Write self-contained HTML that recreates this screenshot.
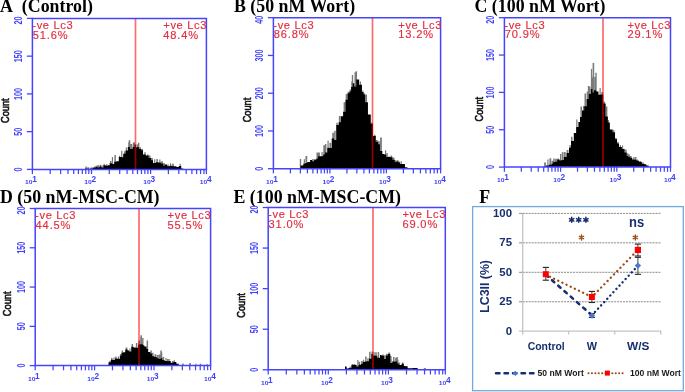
<!DOCTYPE html>
<html><head><meta charset="utf-8"><style>
*{margin:0;padding:0}
html,body{width:685px;height:392px;overflow:hidden;background:#fff}
svg{display:block;will-change:transform;filter:blur(0.3px)}
.ttl{font-family:"Liberation Serif",serif;font-weight:bold;font-size:17.85px;fill:#000}
.yl{font-family:"Liberation Sans",sans-serif;font-size:11px;font-weight:bold;fill:#4040ff;text-anchor:middle}
.xl10{font-family:"Liberation Sans",sans-serif;font-size:5.6px;font-weight:bold;fill:#4040ff;text-anchor:end}
.xls{font-family:"Liberation Sans",sans-serif;font-size:8.3px;font-weight:bold;fill:#4040ff}
.cnt{font-family:"Liberation Sans",sans-serif;font-size:10.6px;fill:#111;stroke:#111;stroke-width:0.6px;text-anchor:middle}
.rt{font-family:"Liberation Sans",sans-serif;font-size:11.1px;fill:#e22c3e;letter-spacing:0.65px;stroke:#e22c3e;stroke-width:0.15px}
.rp{letter-spacing:0.85px}
.fy{font-family:"Liberation Sans",sans-serif;font-size:11.4px;font-weight:bold;fill:#172f6e}
.fyt{font-family:"Liberation Sans",sans-serif;font-size:13px;font-weight:bold;fill:#172f6e}
.fx{font-family:"Liberation Sans",sans-serif;font-size:11.6px;font-weight:bold;fill:#172f6e}
.stars{font-family:"Liberation Sans",sans-serif;font-size:14px;font-weight:bold;fill:#1f3a7a}
.ns{font-family:"Liberation Sans",sans-serif;font-size:14px;font-weight:bold;fill:#172f6e}
.bstar{font-family:"Liberation Sans",sans-serif;font-size:13px;font-weight:bold;fill:#a0522d}
.lg{font-family:"Liberation Sans",sans-serif;font-size:8.6px;font-weight:bold;fill:#1a1a1a}
</style></head>
<body><svg width="685" height="392" viewBox="0 0 685 392">
<rect width="685" height="392" fill="#fff"/>
<text x="0.0" y="12.0" class="ttl">A  (Control)</text>
<path d="M85.26 169.4V166.6h1.5V169.4zM87.22 169.4V167.3h1.8V169.4zM90.18 169.4V167.4h1.8V169.4zM94.01 169.4V166.5h1.5V169.4zM95.60 169.4V165.8h1.8V169.4zM97.22 169.4V165.2h1.8V169.4zM99.58 169.4V164.8h1.5V169.4zM101.47 169.4V165.3h1.2V169.4zM103.52 169.4V163.8h1.2V169.4zM105.98 169.4V164.2h1.5V169.4zM110.01 169.4V160.9h1.5V169.4zM111.87 169.4V156.9h1.2V169.4zM114.40 169.4V154.9h1.5V169.4zM119.02 169.4V155.8h1.2V169.4zM121.17 169.4V150.8h1.2V169.4zM123.98 169.4V151.3h1.5V169.4zM125.75 169.4V147.6h1.2V169.4zM128.19 169.4V142.2h1.2V169.4zM130.37 169.4V144.1h1.8V169.4zM132.73 169.4V142.7h1.8V169.4zM136.97 169.4V144.2h1.2V169.4zM139.54 169.4V147.3h1.5V169.4zM141.78 169.4V148.9h1.2V169.4zM144.24 169.4V152.2h1.5V169.4zM147.09 169.4V154.4h1.5V169.4zM148.76 169.4V155.6h1.8V169.4zM151.07 169.4V158.0h1.8V169.4zM154.11 169.4V159.2h1.2V169.4zM156.34 169.4V159.1h1.5V169.4zM159.29 169.4V159.4h1.2V169.4zM161.10 169.4V161.3h1.8V169.4zM163.20 169.4V163.2h1.8V169.4zM167.54 169.4V164.4h1.2V169.4zM169.98 169.4V163.3h1.2V169.4zM172.10 169.4V163.7h1.8V169.4zM179.67 169.4V163.7h1.2V169.4zM128.70 169.4V140.3h1.6V169.4zM133.45 169.4V142.2h1.5V169.4zM138.00 169.4V142.8h1.4V169.4z" fill="#7a7a7a"/>
<path d="M85.20 169.4V168.5h1.65V169.4zM86.80 169.4V168.7h2.85V169.4zM89.60 169.4V168.8h2.85V169.4zM92.40 169.4V167.5h1.65V169.4zM94.00 169.4V167.7h1.65V169.4zM95.60 169.4V167.0h1.65V169.4zM97.20 169.4V167.4h2.25V169.4zM99.40 169.4V166.6h2.05V169.4zM101.40 169.4V167.4h2.05V169.4zM103.40 169.4V165.3h2.25V169.4zM105.60 169.4V165.8h2.45V169.4zM108.00 169.4V165.3h1.65V169.4zM109.60 169.4V163.3h2.25V169.4zM111.80 169.4V164.1h2.45V169.4zM114.20 169.4V161.8h2.25V169.4zM116.40 169.4V161.3h2.45V169.4zM118.80 169.4V157.1h2.25V169.4zM121.00 169.4V157.3h2.25V169.4zM123.20 169.4V153.8h2.45V169.4zM125.60 169.4V150.4h2.25V169.4zM127.80 169.4V147.0h2.05V169.4zM129.80 169.4V149.0h2.85V169.4zM132.60 169.4V147.0h2.05V169.4zM134.60 169.4V144.6h1.65V169.4zM136.20 169.4V147.2h2.85V169.4zM139.00 169.4V148.9h2.45V169.4zM141.40 169.4V150.2h1.65V169.4zM143.00 169.4V154.4h2.85V169.4zM145.80 169.4V155.6h2.85V169.4zM148.60 169.4V157.9h2.45V169.4zM151.00 169.4V160.2h2.05V169.4zM153.00 169.4V162.9h2.85V169.4zM155.80 169.4V162.2h2.25V169.4zM158.00 169.4V162.5h2.85V169.4zM160.80 169.4V163.4h2.45V169.4zM163.20 169.4V165.8h1.65V169.4zM164.80 169.4V164.6h2.45V169.4zM167.20 169.4V166.3h2.25V169.4zM169.40 169.4V165.8h2.45V169.4zM171.80 169.4V166.3h2.25V169.4zM174.00 169.4V166.2h2.45V169.4zM176.40 169.4V166.9h2.45V169.4zM178.80 169.4V166.0h2.45V169.4zM181.20 169.4V168.6h2.05V169.4z" fill="#000"/>
<line x1="135.5" y1="18.4" x2="135.5" y2="169.4" stroke="#ff0000" stroke-opacity="0.58" stroke-width="1.7"/>
<path d="M32.4 18.4H206.4V169.4H32.4Z" fill="none" stroke="#4444ff" stroke-width="1.5"/>
<line x1="26.9" y1="169.40" x2="32.4" y2="169.40" stroke="#4444ff" stroke-width="1.3"/>
<text transform="translate(22.00,169.40) rotate(-90) scale(0.66,1)" class="yl">0</text>
<line x1="26.9" y1="131.65" x2="32.4" y2="131.65" stroke="#4444ff" stroke-width="1.3"/>
<text transform="translate(22.00,131.65) rotate(-90) scale(0.66,1)" class="yl">50</text>
<line x1="26.9" y1="93.90" x2="32.4" y2="93.90" stroke="#4444ff" stroke-width="1.3"/>
<text transform="translate(22.00,93.90) rotate(-90) scale(0.66,1)" class="yl">100</text>
<line x1="26.9" y1="56.15" x2="32.4" y2="56.15" stroke="#4444ff" stroke-width="1.3"/>
<text transform="translate(22.00,56.15) rotate(-90) scale(0.66,1)" class="yl">150</text>
<line x1="26.9" y1="18.40" x2="32.4" y2="18.40" stroke="#4444ff" stroke-width="1.3"/>
<text transform="translate(22.00,24.50) rotate(-90) scale(0.66,1)" class="yl" style="text-anchor:start">20</text>
<line x1="32.40" y1="169.4" x2="32.40" y2="174.10" stroke="#4444ff" stroke-width="1.25"/>
<line x1="50.19" y1="169.4" x2="50.19" y2="174.10" stroke="#4444ff" stroke-width="1.25"/>
<line x1="60.60" y1="169.4" x2="60.60" y2="174.10" stroke="#4444ff" stroke-width="1.25"/>
<line x1="67.98" y1="169.4" x2="67.98" y2="174.10" stroke="#4444ff" stroke-width="1.25"/>
<line x1="73.71" y1="169.4" x2="73.71" y2="174.10" stroke="#4444ff" stroke-width="1.25"/>
<line x1="78.39" y1="169.4" x2="78.39" y2="174.10" stroke="#4444ff" stroke-width="1.25"/>
<line x1="82.35" y1="169.4" x2="82.35" y2="174.10" stroke="#4444ff" stroke-width="1.25"/>
<line x1="85.77" y1="169.4" x2="85.77" y2="174.10" stroke="#4444ff" stroke-width="1.25"/>
<line x1="88.80" y1="169.4" x2="88.80" y2="174.10" stroke="#4444ff" stroke-width="1.25"/>
<line x1="91.50" y1="169.4" x2="91.50" y2="174.10" stroke="#4444ff" stroke-width="1.25"/>
<line x1="109.29" y1="169.4" x2="109.29" y2="174.10" stroke="#4444ff" stroke-width="1.25"/>
<line x1="119.70" y1="169.4" x2="119.70" y2="174.10" stroke="#4444ff" stroke-width="1.25"/>
<line x1="127.08" y1="169.4" x2="127.08" y2="174.10" stroke="#4444ff" stroke-width="1.25"/>
<line x1="132.81" y1="169.4" x2="132.81" y2="174.10" stroke="#4444ff" stroke-width="1.25"/>
<line x1="137.49" y1="169.4" x2="137.49" y2="174.10" stroke="#4444ff" stroke-width="1.25"/>
<line x1="141.45" y1="169.4" x2="141.45" y2="174.10" stroke="#4444ff" stroke-width="1.25"/>
<line x1="144.87" y1="169.4" x2="144.87" y2="174.10" stroke="#4444ff" stroke-width="1.25"/>
<line x1="147.90" y1="169.4" x2="147.90" y2="174.10" stroke="#4444ff" stroke-width="1.25"/>
<line x1="150.60" y1="169.4" x2="150.60" y2="174.10" stroke="#4444ff" stroke-width="1.25"/>
<line x1="168.39" y1="169.4" x2="168.39" y2="174.10" stroke="#4444ff" stroke-width="1.25"/>
<line x1="178.80" y1="169.4" x2="178.80" y2="174.10" stroke="#4444ff" stroke-width="1.25"/>
<line x1="186.18" y1="169.4" x2="186.18" y2="174.10" stroke="#4444ff" stroke-width="1.25"/>
<line x1="191.91" y1="169.4" x2="191.91" y2="174.10" stroke="#4444ff" stroke-width="1.25"/>
<line x1="196.59" y1="169.4" x2="196.59" y2="174.10" stroke="#4444ff" stroke-width="1.25"/>
<line x1="200.55" y1="169.4" x2="200.55" y2="174.10" stroke="#4444ff" stroke-width="1.25"/>
<line x1="203.97" y1="169.4" x2="203.97" y2="174.10" stroke="#4444ff" stroke-width="1.25"/>
<line x1="206.40" y1="169.4" x2="206.40" y2="174.10" stroke="#4444ff" stroke-width="1.25"/>
<text transform="translate(32.60,184.10) scale(1.2,0.82)" class="xl10">10</text>
<text x="32.30" y="182.10" class="xls">1</text>
<text transform="translate(91.70,184.10) scale(1.2,0.82)" class="xl10">10</text>
<text x="91.40" y="182.10" class="xls">2</text>
<text transform="translate(150.80,184.10) scale(1.2,0.82)" class="xl10">10</text>
<text x="150.50" y="182.10" class="xls">3</text>
<text transform="translate(207.30,184.10) scale(1.2,0.82)" class="xl10">10</text>
<text x="207.00" y="182.10" class="xls">4</text>
<text transform="translate(9.30,110.70) rotate(-90) scale(0.87,1)" class="cnt">Count</text>
<text x="32.30" y="29.20" class="rt">-ve Lc3</text>
<text x="32.80" y="39.00" class="rt rp">51.6%</text>
<text x="163.30" y="29.20" class="rt">+ve Lc3</text>
<text x="163.30" y="39.00" class="rt rp">48.4%</text>
<text x="234.0" y="12.0" class="ttl">B (50 nM Wort)</text>
<path d="M303.74 168.7V159.2h1.2V168.7zM305.43 168.7V156.1h1.8V168.7zM312.23 168.7V158.9h1.5V168.7zM316.50 168.7V152.5h1.8V168.7zM318.12 168.7V152.5h1.8V168.7zM321.47 168.7V152.0h1.2V168.7zM323.30 168.7V145.3h1.8V168.7zM324.94 168.7V144.1h1.5V168.7zM327.48 168.7V140.7h1.2V168.7zM329.43 168.7V142.7h1.8V168.7zM332.23 168.7V132.7h1.8V168.7zM334.19 168.7V130.8h1.5V168.7zM336.37 168.7V122.7h1.5V168.7zM338.85 168.7V115.9h1.8V168.7zM343.60 168.7V102.3h1.8V168.7zM345.67 168.7V94.0h1.5V168.7zM347.72 168.7V91.7h1.5V168.7zM349.55 168.7V89.5h1.5V168.7zM351.21 168.7V81.6h1.2V168.7zM354.50 168.7V72.2h1.5V168.7zM359.78 168.7V81.6h1.2V168.7zM362.22 168.7V90.6h1.2V168.7zM363.64 168.7V92.9h1.2V168.7zM365.23 168.7V94.5h1.8V168.7zM371.14 168.7V122.4h1.5V168.7zM373.94 168.7V134.7h1.5V168.7zM375.92 168.7V140.0h1.8V168.7zM377.99 168.7V141.2h1.8V168.7zM380.08 168.7V137.5h1.8V168.7zM384.97 168.7V150.3h1.2V168.7zM386.57 168.7V153.0h1.2V168.7zM390.61 168.7V155.6h1.5V168.7zM392.63 168.7V157.4h1.8V168.7zM394.71 168.7V160.2h1.5V168.7zM396.61 168.7V160.2h1.8V168.7zM398.62 168.7V161.5h1.2V168.7zM400.63 168.7V161.3h1.2V168.7zM355.55 168.7V71.2h1.5V168.7zM351.80 168.7V75.0h1.4V168.7zM299.80 168.7V159.0h1.4V168.7z" fill="#7a7a7a"/>
<path d="M300.50 168.7V165.5h2.85V168.7zM303.30 168.7V163.7h2.05V168.7zM305.30 168.7V163.1h2.05V168.7zM307.30 168.7V161.9h2.85V168.7zM310.10 168.7V160.1h2.05V168.7zM312.10 168.7V161.2h2.05V168.7zM314.10 168.7V159.6h2.45V168.7zM316.50 168.7V158.6h1.65V168.7zM318.10 168.7V156.3h2.85V168.7zM320.90 168.7V156.2h2.45V168.7zM323.30 168.7V154.4h1.65V168.7zM324.90 168.7V152.6h2.45V168.7zM327.30 168.7V147.7h1.65V168.7zM328.90 168.7V147.9h2.85V168.7zM331.70 168.7V138.4h2.45V168.7zM334.10 168.7V139.9h2.25V168.7zM336.30 168.7V124.9h2.45V168.7zM338.70 168.7V122.2h2.25V168.7zM340.90 168.7V116.2h2.25V168.7zM343.10 168.7V111.7h2.45V168.7zM345.50 168.7V99.7h2.05V168.7zM347.50 168.7V93.3h2.05V168.7zM349.50 168.7V91.4h1.65V168.7zM351.10 168.7V87.0h1.65V168.7zM352.70 168.7V83.3h1.65V168.7zM354.30 168.7V86.4h2.05V168.7zM356.30 168.7V79.5h2.85V168.7zM359.10 168.7V84.7h2.85V168.7zM361.90 168.7V92.1h1.65V168.7zM363.50 168.7V94.5h1.65V168.7zM365.10 168.7V102.3h2.85V168.7zM367.90 168.7V114.5h2.85V168.7zM370.70 168.7V123.7h2.25V168.7zM372.90 168.7V136.0h2.85V168.7zM375.70 168.7V141.7h2.25V168.7zM377.90 168.7V144.2h2.05V168.7zM379.90 168.7V151.0h2.45V168.7zM382.30 168.7V154.1h2.05V168.7zM384.30 168.7V154.6h2.05V168.7zM386.30 168.7V156.9h1.65V168.7zM387.90 168.7V156.8h2.45V168.7zM390.30 168.7V157.2h2.25V168.7zM392.50 168.7V159.8h2.25V168.7zM394.70 168.7V161.9h1.65V168.7zM396.30 168.7V161.5h2.25V168.7zM398.50 168.7V162.6h1.65V168.7zM400.10 168.7V163.9h2.05V168.7zM402.10 168.7V164.1h2.85V168.7zM404.90 168.7V167.2h2.45V168.7zM407.30 168.7V168.4h2.05V168.7z" fill="#000"/>
<line x1="372.5" y1="17.7" x2="372.5" y2="168.7" stroke="#ff0000" stroke-opacity="0.58" stroke-width="1.7"/>
<path d="M273.4 17.7H440.6V168.7H273.4Z" fill="none" stroke="#4444ff" stroke-width="1.5"/>
<line x1="267.9" y1="168.70" x2="273.4" y2="168.70" stroke="#4444ff" stroke-width="1.3"/>
<text transform="translate(263.00,168.70) rotate(-90) scale(0.66,1)" class="yl">0</text>
<line x1="267.9" y1="130.95" x2="273.4" y2="130.95" stroke="#4444ff" stroke-width="1.3"/>
<text transform="translate(263.00,130.95) rotate(-90) scale(0.66,1)" class="yl">100</text>
<line x1="267.9" y1="93.20" x2="273.4" y2="93.20" stroke="#4444ff" stroke-width="1.3"/>
<text transform="translate(263.00,93.20) rotate(-90) scale(0.66,1)" class="yl">200</text>
<line x1="267.9" y1="55.45" x2="273.4" y2="55.45" stroke="#4444ff" stroke-width="1.3"/>
<text transform="translate(263.00,55.45) rotate(-90) scale(0.66,1)" class="yl">300</text>
<line x1="267.9" y1="17.70" x2="273.4" y2="17.70" stroke="#4444ff" stroke-width="1.3"/>
<text transform="translate(263.00,23.80) rotate(-90) scale(0.66,1)" class="yl" style="text-anchor:start">40</text>
<line x1="273.40" y1="168.7" x2="273.40" y2="173.40" stroke="#4444ff" stroke-width="1.25"/>
<line x1="290.41" y1="168.7" x2="290.41" y2="173.40" stroke="#4444ff" stroke-width="1.25"/>
<line x1="300.36" y1="168.7" x2="300.36" y2="173.40" stroke="#4444ff" stroke-width="1.25"/>
<line x1="307.42" y1="168.7" x2="307.42" y2="173.40" stroke="#4444ff" stroke-width="1.25"/>
<line x1="312.89" y1="168.7" x2="312.89" y2="173.40" stroke="#4444ff" stroke-width="1.25"/>
<line x1="317.37" y1="168.7" x2="317.37" y2="173.40" stroke="#4444ff" stroke-width="1.25"/>
<line x1="321.15" y1="168.7" x2="321.15" y2="173.40" stroke="#4444ff" stroke-width="1.25"/>
<line x1="324.42" y1="168.7" x2="324.42" y2="173.40" stroke="#4444ff" stroke-width="1.25"/>
<line x1="327.31" y1="168.7" x2="327.31" y2="173.40" stroke="#4444ff" stroke-width="1.25"/>
<line x1="329.90" y1="168.7" x2="329.90" y2="173.40" stroke="#4444ff" stroke-width="1.25"/>
<line x1="346.91" y1="168.7" x2="346.91" y2="173.40" stroke="#4444ff" stroke-width="1.25"/>
<line x1="356.86" y1="168.7" x2="356.86" y2="173.40" stroke="#4444ff" stroke-width="1.25"/>
<line x1="363.92" y1="168.7" x2="363.92" y2="173.40" stroke="#4444ff" stroke-width="1.25"/>
<line x1="369.39" y1="168.7" x2="369.39" y2="173.40" stroke="#4444ff" stroke-width="1.25"/>
<line x1="373.87" y1="168.7" x2="373.87" y2="173.40" stroke="#4444ff" stroke-width="1.25"/>
<line x1="377.65" y1="168.7" x2="377.65" y2="173.40" stroke="#4444ff" stroke-width="1.25"/>
<line x1="380.92" y1="168.7" x2="380.92" y2="173.40" stroke="#4444ff" stroke-width="1.25"/>
<line x1="383.81" y1="168.7" x2="383.81" y2="173.40" stroke="#4444ff" stroke-width="1.25"/>
<line x1="386.40" y1="168.7" x2="386.40" y2="173.40" stroke="#4444ff" stroke-width="1.25"/>
<line x1="403.41" y1="168.7" x2="403.41" y2="173.40" stroke="#4444ff" stroke-width="1.25"/>
<line x1="413.36" y1="168.7" x2="413.36" y2="173.40" stroke="#4444ff" stroke-width="1.25"/>
<line x1="420.42" y1="168.7" x2="420.42" y2="173.40" stroke="#4444ff" stroke-width="1.25"/>
<line x1="425.89" y1="168.7" x2="425.89" y2="173.40" stroke="#4444ff" stroke-width="1.25"/>
<line x1="430.37" y1="168.7" x2="430.37" y2="173.40" stroke="#4444ff" stroke-width="1.25"/>
<line x1="434.15" y1="168.7" x2="434.15" y2="173.40" stroke="#4444ff" stroke-width="1.25"/>
<line x1="437.42" y1="168.7" x2="437.42" y2="173.40" stroke="#4444ff" stroke-width="1.25"/>
<line x1="440.60" y1="168.7" x2="440.60" y2="173.40" stroke="#4444ff" stroke-width="1.25"/>
<text transform="translate(273.60,183.70) scale(1.2,0.82)" class="xl10">10</text>
<text x="273.30" y="181.70" class="xls">1</text>
<text transform="translate(330.10,183.70) scale(1.2,0.82)" class="xl10">10</text>
<text x="329.80" y="181.70" class="xls">2</text>
<text transform="translate(386.60,183.70) scale(1.2,0.82)" class="xl10">10</text>
<text x="386.30" y="181.70" class="xls">3</text>
<text transform="translate(441.50,183.70) scale(1.2,0.82)" class="xl10">10</text>
<text x="441.20" y="181.70" class="xls">4</text>
<text transform="translate(250.60,110.00) rotate(-90) scale(0.87,1)" class="cnt">Count</text>
<text x="273.30" y="28.50" class="rt">-ve Lc3</text>
<text x="273.80" y="38.30" class="rt rp">86.8%</text>
<text x="398.30" y="28.50" class="rt">+ve Lc3</text>
<text x="398.30" y="38.30" class="rt rp">13.2%</text>
<text x="474.5" y="12.0" class="ttl">C (100 nM Wort)</text>
<path d="M544.13 167.1V162.5h1.8V167.1zM547.32 167.1V159.6h1.2V167.1zM549.44 167.1V158.3h1.8V167.1zM551.66 167.1V160.8h1.5V167.1zM553.23 167.1V158.4h1.5V167.1zM555.12 167.1V158.7h1.8V167.1zM557.41 167.1V158.4h1.5V167.1zM559.98 167.1V154.0h1.2V167.1zM561.68 167.1V152.2h1.8V167.1zM563.93 167.1V152.1h1.8V167.1zM566.66 167.1V149.9h1.8V167.1zM569.38 167.1V145.2h1.5V167.1zM571.02 167.1V136.7h1.5V167.1zM576.27 167.1V119.4h1.2V167.1zM580.44 167.1V106.6h1.5V167.1zM582.95 167.1V106.0h1.2V167.1zM584.51 167.1V93.5h1.5V167.1zM586.68 167.1V91.5h1.5V167.1zM588.93 167.1V86.6h1.5V167.1zM590.88 167.1V76.6h1.5V167.1zM592.40 167.1V77.9h1.8V167.1zM594.39 167.1V77.1h1.5V167.1zM599.52 167.1V88.1h1.2V167.1zM601.32 167.1V92.1h1.8V167.1zM603.45 167.1V101.6h1.5V167.1zM605.88 167.1V106.6h1.5V167.1zM607.86 167.1V119.9h1.2V167.1zM612.73 167.1V130.0h1.5V167.1zM615.02 167.1V138.0h1.8V167.1zM617.19 167.1V142.1h1.5V167.1zM619.80 167.1V144.9h1.2V167.1zM621.95 167.1V145.5h1.2V167.1zM625.08 167.1V149.5h1.5V167.1zM626.60 167.1V153.2h1.8V167.1zM628.20 167.1V154.5h1.8V167.1zM629.87 167.1V155.9h1.8V167.1zM633.14 167.1V157.2h1.2V167.1zM634.65 167.1V157.1h1.8V167.1zM636.96 167.1V159.5h1.2V167.1zM639.30 167.1V161.1h1.8V167.1zM642.37 167.1V162.2h1.2V167.1zM592.60 167.1V63.0h1.6V167.1zM590.90 167.1V69.0h1.2V167.1zM587.85 167.1V86.0h1.3V167.1zM595.30 167.1V72.8h1.4V167.1z" fill="#7a7a7a"/>
<path d="M544.00 167.1V166.4h2.05V167.1zM546.00 167.1V165.6h2.85V167.1zM548.80 167.1V164.7h2.85V167.1zM551.60 167.1V163.8h1.65V167.1zM553.20 167.1V162.1h1.65V167.1zM554.80 167.1V161.8h2.45V167.1zM557.20 167.1V159.5h2.45V167.1zM559.60 167.1V160.4h2.05V167.1zM561.60 167.1V160.1h2.25V167.1zM563.80 167.1V157.1h2.85V167.1zM566.60 167.1V153.1h2.45V167.1zM569.00 167.1V147.8h2.05V167.1zM571.00 167.1V141.1h2.85V167.1zM573.80 167.1V132.9h2.45V167.1zM576.20 167.1V127.1h2.25V167.1zM578.40 167.1V122.1h1.65V167.1zM580.00 167.1V116.9h2.05V167.1zM582.00 167.1V110.6h2.25V167.1zM584.20 167.1V106.2h2.45V167.1zM586.60 167.1V99.0h2.25V167.1zM588.80 167.1V94.0h2.05V167.1zM590.80 167.1V89.1h1.65V167.1zM592.40 167.1V92.5h1.65V167.1zM594.00 167.1V90.2h2.05V167.1zM596.00 167.1V91.5h2.45V167.1zM598.40 167.1V94.7h2.45V167.1zM600.80 167.1V94.4h2.45V167.1zM603.20 167.1V103.6h2.45V167.1zM605.60 167.1V116.4h2.25V167.1zM607.80 167.1V122.4h2.05V167.1zM609.80 167.1V129.5h2.85V167.1zM612.60 167.1V132.3h2.45V167.1zM615.00 167.1V139.3h2.05V167.1zM617.00 167.1V143.6h2.05V167.1zM619.00 167.1V146.9h2.85V167.1zM621.80 167.1V148.9h2.85V167.1zM624.60 167.1V152.4h2.05V167.1zM626.60 167.1V155.9h1.65V167.1zM628.20 167.1V157.1h1.65V167.1zM629.80 167.1V157.8h2.45V167.1zM632.20 167.1V159.5h2.45V167.1zM634.60 167.1V159.7h2.05V167.1zM636.60 167.1V160.7h2.45V167.1zM639.00 167.1V162.1h2.85V167.1zM641.80 167.1V163.8h2.45V167.1zM644.20 167.1V164.3h2.05V167.1zM646.20 167.1V165.6h2.45V167.1z" fill="#000"/>
<line x1="603.0" y1="17.7" x2="603.0" y2="167.1" stroke="#ff0000" stroke-opacity="0.58" stroke-width="1.7"/>
<path d="M504.4 17.7H670.5V167.1H504.4Z" fill="none" stroke="#4444ff" stroke-width="1.5"/>
<line x1="498.9" y1="167.10" x2="504.4" y2="167.10" stroke="#4444ff" stroke-width="1.3"/>
<text transform="translate(494.00,167.10) rotate(-90) scale(0.66,1)" class="yl">0</text>
<line x1="498.9" y1="129.75" x2="504.4" y2="129.75" stroke="#4444ff" stroke-width="1.3"/>
<text transform="translate(494.00,129.75) rotate(-90) scale(0.66,1)" class="yl">50</text>
<line x1="498.9" y1="92.40" x2="504.4" y2="92.40" stroke="#4444ff" stroke-width="1.3"/>
<text transform="translate(494.00,92.40) rotate(-90) scale(0.66,1)" class="yl">100</text>
<line x1="498.9" y1="55.05" x2="504.4" y2="55.05" stroke="#4444ff" stroke-width="1.3"/>
<text transform="translate(494.00,55.05) rotate(-90) scale(0.66,1)" class="yl">150</text>
<line x1="498.9" y1="17.70" x2="504.4" y2="17.70" stroke="#4444ff" stroke-width="1.3"/>
<text transform="translate(494.00,23.80) rotate(-90) scale(0.66,1)" class="yl" style="text-anchor:start">20</text>
<line x1="504.40" y1="167.1" x2="504.40" y2="171.80" stroke="#4444ff" stroke-width="1.25"/>
<line x1="521.32" y1="167.1" x2="521.32" y2="171.80" stroke="#4444ff" stroke-width="1.25"/>
<line x1="531.21" y1="167.1" x2="531.21" y2="171.80" stroke="#4444ff" stroke-width="1.25"/>
<line x1="538.24" y1="167.1" x2="538.24" y2="171.80" stroke="#4444ff" stroke-width="1.25"/>
<line x1="543.68" y1="167.1" x2="543.68" y2="171.80" stroke="#4444ff" stroke-width="1.25"/>
<line x1="548.13" y1="167.1" x2="548.13" y2="171.80" stroke="#4444ff" stroke-width="1.25"/>
<line x1="551.89" y1="167.1" x2="551.89" y2="171.80" stroke="#4444ff" stroke-width="1.25"/>
<line x1="555.15" y1="167.1" x2="555.15" y2="171.80" stroke="#4444ff" stroke-width="1.25"/>
<line x1="558.03" y1="167.1" x2="558.03" y2="171.80" stroke="#4444ff" stroke-width="1.25"/>
<line x1="560.60" y1="167.1" x2="560.60" y2="171.80" stroke="#4444ff" stroke-width="1.25"/>
<line x1="577.52" y1="167.1" x2="577.52" y2="171.80" stroke="#4444ff" stroke-width="1.25"/>
<line x1="587.41" y1="167.1" x2="587.41" y2="171.80" stroke="#4444ff" stroke-width="1.25"/>
<line x1="594.44" y1="167.1" x2="594.44" y2="171.80" stroke="#4444ff" stroke-width="1.25"/>
<line x1="599.88" y1="167.1" x2="599.88" y2="171.80" stroke="#4444ff" stroke-width="1.25"/>
<line x1="604.33" y1="167.1" x2="604.33" y2="171.80" stroke="#4444ff" stroke-width="1.25"/>
<line x1="608.09" y1="167.1" x2="608.09" y2="171.80" stroke="#4444ff" stroke-width="1.25"/>
<line x1="611.35" y1="167.1" x2="611.35" y2="171.80" stroke="#4444ff" stroke-width="1.25"/>
<line x1="614.23" y1="167.1" x2="614.23" y2="171.80" stroke="#4444ff" stroke-width="1.25"/>
<line x1="616.80" y1="167.1" x2="616.80" y2="171.80" stroke="#4444ff" stroke-width="1.25"/>
<line x1="633.72" y1="167.1" x2="633.72" y2="171.80" stroke="#4444ff" stroke-width="1.25"/>
<line x1="643.61" y1="167.1" x2="643.61" y2="171.80" stroke="#4444ff" stroke-width="1.25"/>
<line x1="650.64" y1="167.1" x2="650.64" y2="171.80" stroke="#4444ff" stroke-width="1.25"/>
<line x1="656.08" y1="167.1" x2="656.08" y2="171.80" stroke="#4444ff" stroke-width="1.25"/>
<line x1="660.53" y1="167.1" x2="660.53" y2="171.80" stroke="#4444ff" stroke-width="1.25"/>
<line x1="664.29" y1="167.1" x2="664.29" y2="171.80" stroke="#4444ff" stroke-width="1.25"/>
<line x1="667.55" y1="167.1" x2="667.55" y2="171.80" stroke="#4444ff" stroke-width="1.25"/>
<line x1="670.50" y1="167.1" x2="670.50" y2="171.80" stroke="#4444ff" stroke-width="1.25"/>
<text transform="translate(504.60,182.10) scale(1.2,0.82)" class="xl10">10</text>
<text x="504.30" y="180.10" class="xls">1</text>
<text transform="translate(560.80,182.10) scale(1.2,0.82)" class="xl10">10</text>
<text x="560.50" y="180.10" class="xls">2</text>
<text transform="translate(617.00,182.10) scale(1.2,0.82)" class="xl10">10</text>
<text x="616.70" y="180.10" class="xls">3</text>
<text transform="translate(671.40,182.10) scale(1.2,0.82)" class="xl10">10</text>
<text x="671.10" y="180.10" class="xls">4</text>
<text transform="translate(482.70,109.20) rotate(-90) scale(0.87,1)" class="cnt">Count</text>
<text x="504.30" y="28.50" class="rt">-ve Lc3</text>
<text x="504.80" y="38.30" class="rt rp">70.9%</text>
<text x="627.40" y="28.50" class="rt">+ve Lc3</text>
<text x="627.40" y="38.30" class="rt rp">29.1%</text>
<text x="0.0" y="203.0" class="ttl">D (50 nM-MSC-CM)</text>
<path d="M109.33 365.6V360.8h1.5V365.6zM111.00 365.6V358.0h1.5V365.6zM113.40 365.6V357.4h1.2V365.6zM115.15 365.6V356.5h1.5V365.6zM117.88 365.6V356.6h1.2V365.6zM119.90 365.6V354.1h1.8V365.6zM121.59 365.6V350.5h1.5V365.6zM125.60 365.6V347.4h1.8V365.6zM129.38 365.6V348.5h1.2V365.6zM131.55 365.6V344.1h1.5V365.6zM135.87 365.6V343.1h1.5V365.6zM138.26 365.6V340.6h1.8V365.6zM140.48 365.6V335.3h1.5V365.6zM146.59 365.6V340.5h1.5V365.6zM150.37 365.6V350.4h1.5V365.6zM152.02 365.6V352.7h1.5V365.6zM154.48 365.6V354.3h1.8V365.6zM156.72 365.6V355.0h1.8V365.6zM158.73 365.6V354.5h1.5V365.6zM161.10 365.6V352.4h1.2V365.6zM162.65 365.6V356.9h1.5V365.6zM165.40 365.6V357.9h1.2V365.6zM166.96 365.6V358.9h1.5V365.6zM168.65 365.6V358.9h1.2V365.6zM171.99 365.6V360.9h1.5V365.6zM173.66 365.6V360.2h1.2V365.6zM140.20 365.6V337.0h1.6V365.6zM142.10 365.6V338.0h1.4V365.6zM160.25 365.6V350.5h1.5V365.6zM182.25 365.6V363.5h1.5V365.6zM189.20 365.6V363.0h1.6V365.6zM195.40 365.6V363.8h1.2V365.6zM199.75 365.6V363.8h1.5V365.6zM206.40 365.6V364.0h1.2V365.6z" fill="#7a7a7a"/>
<path d="M108.50 365.6V362.2h2.45V365.6zM110.90 365.6V359.7h2.05V365.6zM112.90 365.6V360.1h2.25V365.6zM115.10 365.6V358.4h2.05V365.6zM117.10 365.6V358.8h2.85V365.6zM119.90 365.6V355.7h1.65V365.6zM121.50 365.6V352.7h1.65V365.6zM123.10 365.6V352.2h2.25V365.6zM125.30 365.6V349.5h2.25V365.6zM127.50 365.6V350.5h1.65V365.6zM129.10 365.6V351.4h2.25V365.6zM131.30 365.6V346.7h2.25V365.6zM133.50 365.6V347.5h2.25V365.6zM135.70 365.6V347.7h2.45V365.6zM138.10 365.6V344.4h2.25V365.6zM140.30 365.6V344.2h2.45V365.6zM142.70 365.6V345.3h1.65V365.6zM144.30 365.6V346.4h2.25V365.6zM146.50 365.6V349.1h1.65V365.6zM148.10 365.6V352.0h2.25V365.6zM150.30 365.6V353.4h1.65V365.6zM151.90 365.6V356.2h2.45V365.6zM154.30 365.6V357.1h2.45V365.6zM156.70 365.6V358.2h2.05V365.6zM158.70 365.6V358.9h2.05V365.6zM160.70 365.6V358.2h1.65V365.6zM162.30 365.6V360.1h2.25V365.6zM164.50 365.6V360.9h2.45V365.6zM166.90 365.6V361.2h1.65V365.6zM168.50 365.6V361.0h2.25V365.6zM170.70 365.6V362.7h2.85V365.6zM173.50 365.6V361.9h2.85V365.6zM176.30 365.6V363.7h2.45V365.6z" fill="#000"/>
<line x1="139.0" y1="208.5" x2="139.0" y2="365.6" stroke="#ff0000" stroke-opacity="0.58" stroke-width="1.7"/>
<path d="M35.2 208.5H210.6V365.6H35.2Z" fill="none" stroke="#4444ff" stroke-width="1.5"/>
<line x1="29.700000000000003" y1="365.60" x2="35.2" y2="365.60" stroke="#4444ff" stroke-width="1.3"/>
<text transform="translate(24.80,365.60) rotate(-90) scale(0.66,1)" class="yl">0</text>
<line x1="29.700000000000003" y1="326.33" x2="35.2" y2="326.33" stroke="#4444ff" stroke-width="1.3"/>
<text transform="translate(24.80,326.33) rotate(-90) scale(0.66,1)" class="yl">50</text>
<line x1="29.700000000000003" y1="287.05" x2="35.2" y2="287.05" stroke="#4444ff" stroke-width="1.3"/>
<text transform="translate(24.80,287.05) rotate(-90) scale(0.66,1)" class="yl">100</text>
<line x1="29.700000000000003" y1="247.78" x2="35.2" y2="247.78" stroke="#4444ff" stroke-width="1.3"/>
<text transform="translate(24.80,247.78) rotate(-90) scale(0.66,1)" class="yl">150</text>
<line x1="29.700000000000003" y1="208.50" x2="35.2" y2="208.50" stroke="#4444ff" stroke-width="1.3"/>
<text transform="translate(24.80,214.60) rotate(-90) scale(0.66,1)" class="yl" style="text-anchor:start">20</text>
<line x1="35.20" y1="365.6" x2="35.20" y2="370.30" stroke="#4444ff" stroke-width="1.25"/>
<line x1="53.08" y1="365.6" x2="53.08" y2="370.30" stroke="#4444ff" stroke-width="1.25"/>
<line x1="63.54" y1="365.6" x2="63.54" y2="370.30" stroke="#4444ff" stroke-width="1.25"/>
<line x1="70.96" y1="365.6" x2="70.96" y2="370.30" stroke="#4444ff" stroke-width="1.25"/>
<line x1="76.72" y1="365.6" x2="76.72" y2="370.30" stroke="#4444ff" stroke-width="1.25"/>
<line x1="81.42" y1="365.6" x2="81.42" y2="370.30" stroke="#4444ff" stroke-width="1.25"/>
<line x1="85.40" y1="365.6" x2="85.40" y2="370.30" stroke="#4444ff" stroke-width="1.25"/>
<line x1="88.84" y1="365.6" x2="88.84" y2="370.30" stroke="#4444ff" stroke-width="1.25"/>
<line x1="91.88" y1="365.6" x2="91.88" y2="370.30" stroke="#4444ff" stroke-width="1.25"/>
<line x1="94.60" y1="365.6" x2="94.60" y2="370.30" stroke="#4444ff" stroke-width="1.25"/>
<line x1="112.48" y1="365.6" x2="112.48" y2="370.30" stroke="#4444ff" stroke-width="1.25"/>
<line x1="122.94" y1="365.6" x2="122.94" y2="370.30" stroke="#4444ff" stroke-width="1.25"/>
<line x1="130.36" y1="365.6" x2="130.36" y2="370.30" stroke="#4444ff" stroke-width="1.25"/>
<line x1="136.12" y1="365.6" x2="136.12" y2="370.30" stroke="#4444ff" stroke-width="1.25"/>
<line x1="140.82" y1="365.6" x2="140.82" y2="370.30" stroke="#4444ff" stroke-width="1.25"/>
<line x1="144.80" y1="365.6" x2="144.80" y2="370.30" stroke="#4444ff" stroke-width="1.25"/>
<line x1="148.24" y1="365.6" x2="148.24" y2="370.30" stroke="#4444ff" stroke-width="1.25"/>
<line x1="151.28" y1="365.6" x2="151.28" y2="370.30" stroke="#4444ff" stroke-width="1.25"/>
<line x1="154.00" y1="365.6" x2="154.00" y2="370.30" stroke="#4444ff" stroke-width="1.25"/>
<line x1="171.88" y1="365.6" x2="171.88" y2="370.30" stroke="#4444ff" stroke-width="1.25"/>
<line x1="182.34" y1="365.6" x2="182.34" y2="370.30" stroke="#4444ff" stroke-width="1.25"/>
<line x1="189.76" y1="365.6" x2="189.76" y2="370.30" stroke="#4444ff" stroke-width="1.25"/>
<line x1="195.52" y1="365.6" x2="195.52" y2="370.30" stroke="#4444ff" stroke-width="1.25"/>
<line x1="200.22" y1="365.6" x2="200.22" y2="370.30" stroke="#4444ff" stroke-width="1.25"/>
<line x1="204.20" y1="365.6" x2="204.20" y2="370.30" stroke="#4444ff" stroke-width="1.25"/>
<line x1="207.64" y1="365.6" x2="207.64" y2="370.30" stroke="#4444ff" stroke-width="1.25"/>
<line x1="210.60" y1="365.6" x2="210.60" y2="370.30" stroke="#4444ff" stroke-width="1.25"/>
<text transform="translate(35.40,381.10) scale(1.2,0.82)" class="xl10">10</text>
<text x="35.10" y="379.10" class="xls">1</text>
<text transform="translate(94.80,381.10) scale(1.2,0.82)" class="xl10">10</text>
<text x="94.50" y="379.10" class="xls">2</text>
<text transform="translate(154.20,381.10) scale(1.2,0.82)" class="xl10">10</text>
<text x="153.90" y="379.10" class="xls">3</text>
<text transform="translate(211.50,381.10) scale(1.2,0.82)" class="xl10">10</text>
<text x="211.20" y="379.10" class="xls">4</text>
<text transform="translate(11.40,303.85) rotate(-90) scale(0.87,1)" class="cnt">Count</text>
<text x="35.10" y="219.30" class="rt">-ve Lc3</text>
<text x="35.60" y="229.10" class="rt rp">44.5%</text>
<text x="167.60" y="219.30" class="rt">+ve Lc3</text>
<text x="167.60" y="229.10" class="rt rp">55.5%</text>
<text x="233.5" y="203.0" class="ttl">E (100 nM-MSC-CM)</text>
<path d="M349.47 369.8V366.8h1.8V369.8zM351.76 369.8V364.1h1.8V369.8zM353.98 369.8V363.9h1.5V369.8zM357.26 369.8V360.1h1.2V369.8zM358.67 369.8V361.8h1.5V369.8zM361.07 369.8V361.1h1.5V369.8zM362.92 369.8V359.7h1.2V369.8zM365.12 369.8V356.4h1.5V369.8zM367.25 369.8V358.3h1.5V369.8zM369.10 369.8V351.8h1.5V369.8zM371.48 369.8V351.5h1.5V369.8zM373.46 369.8V352.0h1.2V369.8zM375.20 369.8V353.6h1.5V369.8zM377.68 369.8V351.9h1.2V369.8zM381.97 369.8V354.6h1.8V369.8zM384.08 369.8V355.3h1.8V369.8zM386.03 369.8V353.8h1.8V369.8zM388.33 369.8V352.6h1.8V369.8zM390.26 369.8V359.3h1.5V369.8zM393.04 369.8V356.9h1.5V369.8zM395.13 369.8V357.8h1.5V369.8zM397.38 369.8V359.7h1.2V369.8zM398.91 369.8V362.5h1.2V369.8zM401.95 369.8V362.5h1.5V369.8zM375.20 369.8V352.3h1.6V369.8zM377.80 369.8V352.5h1.4V369.8zM390.05 369.8V356.0h1.5V369.8zM396.50 369.8V357.0h1.4V369.8z" fill="#7a7a7a"/>
<path d="M345.00 369.8V366.6h1.65V369.8zM346.60 369.8V368.4h2.05V369.8zM348.60 369.8V367.9h2.85V369.8zM351.40 369.8V365.1h2.45V369.8zM353.80 369.8V365.0h2.85V369.8zM356.60 369.8V366.6h2.05V369.8zM358.60 369.8V364.8h2.45V369.8zM361.00 369.8V364.1h1.65V369.8zM362.60 369.8V361.9h2.05V369.8zM364.60 369.8V361.4h2.25V369.8zM366.80 369.8V361.3h2.25V369.8zM369.00 369.8V358.7h2.45V369.8zM371.40 369.8V354.0h1.65V369.8zM373.00 369.8V355.5h2.05V369.8zM375.00 369.8V355.8h2.25V369.8zM377.20 369.8V357.7h2.85V369.8zM380.00 369.8V355.1h1.65V369.8zM381.60 369.8V355.8h2.45V369.8zM384.00 369.8V359.0h2.05V369.8zM386.00 369.8V355.5h2.05V369.8zM388.00 369.8V354.0h2.25V369.8zM390.20 369.8V362.9h2.05V369.8zM392.20 369.8V361.5h2.85V369.8zM395.00 369.8V361.6h2.25V369.8zM397.20 369.8V363.5h1.65V369.8zM398.80 369.8V365.1h2.85V369.8zM401.60 369.8V363.7h2.25V369.8zM403.80 369.8V365.9h1.65V369.8zM405.40 369.8V366.2h2.25V369.8zM407.60 369.8V368.2h2.85V369.8zM410.40 369.8V368.2h2.45V369.8zM412.80 369.8V368.0h2.05V369.8zM414.80 369.8V367.9h2.85V369.8zM417.60 369.8V368.9h1.65V369.8zM423.80 369.8V368.5h2.05V369.8z" fill="#000"/>
<line x1="373.0" y1="207.5" x2="373.0" y2="369.8" stroke="#ff0000" stroke-opacity="0.58" stroke-width="1.7"/>
<path d="M268.2 207.5H445.3V369.8H268.2Z" fill="none" stroke="#4444ff" stroke-width="1.5"/>
<line x1="262.7" y1="369.80" x2="268.2" y2="369.80" stroke="#4444ff" stroke-width="1.3"/>
<text transform="translate(257.80,369.80) rotate(-90) scale(0.66,1)" class="yl">0</text>
<line x1="262.7" y1="329.23" x2="268.2" y2="329.23" stroke="#4444ff" stroke-width="1.3"/>
<text transform="translate(257.80,329.23) rotate(-90) scale(0.66,1)" class="yl">50</text>
<line x1="262.7" y1="288.65" x2="268.2" y2="288.65" stroke="#4444ff" stroke-width="1.3"/>
<text transform="translate(257.80,288.65) rotate(-90) scale(0.66,1)" class="yl">100</text>
<line x1="262.7" y1="248.07" x2="268.2" y2="248.07" stroke="#4444ff" stroke-width="1.3"/>
<text transform="translate(257.80,248.07) rotate(-90) scale(0.66,1)" class="yl">150</text>
<line x1="262.7" y1="207.50" x2="268.2" y2="207.50" stroke="#4444ff" stroke-width="1.3"/>
<text transform="translate(257.80,213.60) rotate(-90) scale(0.66,1)" class="yl" style="text-anchor:start">20</text>
<line x1="268.20" y1="369.8" x2="268.20" y2="374.50" stroke="#4444ff" stroke-width="1.25"/>
<line x1="286.29" y1="369.8" x2="286.29" y2="374.50" stroke="#4444ff" stroke-width="1.25"/>
<line x1="296.87" y1="369.8" x2="296.87" y2="374.50" stroke="#4444ff" stroke-width="1.25"/>
<line x1="304.38" y1="369.8" x2="304.38" y2="374.50" stroke="#4444ff" stroke-width="1.25"/>
<line x1="310.21" y1="369.8" x2="310.21" y2="374.50" stroke="#4444ff" stroke-width="1.25"/>
<line x1="314.97" y1="369.8" x2="314.97" y2="374.50" stroke="#4444ff" stroke-width="1.25"/>
<line x1="318.99" y1="369.8" x2="318.99" y2="374.50" stroke="#4444ff" stroke-width="1.25"/>
<line x1="322.48" y1="369.8" x2="322.48" y2="374.50" stroke="#4444ff" stroke-width="1.25"/>
<line x1="325.55" y1="369.8" x2="325.55" y2="374.50" stroke="#4444ff" stroke-width="1.25"/>
<line x1="328.30" y1="369.8" x2="328.30" y2="374.50" stroke="#4444ff" stroke-width="1.25"/>
<line x1="346.39" y1="369.8" x2="346.39" y2="374.50" stroke="#4444ff" stroke-width="1.25"/>
<line x1="356.97" y1="369.8" x2="356.97" y2="374.50" stroke="#4444ff" stroke-width="1.25"/>
<line x1="364.48" y1="369.8" x2="364.48" y2="374.50" stroke="#4444ff" stroke-width="1.25"/>
<line x1="370.31" y1="369.8" x2="370.31" y2="374.50" stroke="#4444ff" stroke-width="1.25"/>
<line x1="375.07" y1="369.8" x2="375.07" y2="374.50" stroke="#4444ff" stroke-width="1.25"/>
<line x1="379.09" y1="369.8" x2="379.09" y2="374.50" stroke="#4444ff" stroke-width="1.25"/>
<line x1="382.58" y1="369.8" x2="382.58" y2="374.50" stroke="#4444ff" stroke-width="1.25"/>
<line x1="385.65" y1="369.8" x2="385.65" y2="374.50" stroke="#4444ff" stroke-width="1.25"/>
<line x1="388.40" y1="369.8" x2="388.40" y2="374.50" stroke="#4444ff" stroke-width="1.25"/>
<line x1="406.49" y1="369.8" x2="406.49" y2="374.50" stroke="#4444ff" stroke-width="1.25"/>
<line x1="417.07" y1="369.8" x2="417.07" y2="374.50" stroke="#4444ff" stroke-width="1.25"/>
<line x1="424.58" y1="369.8" x2="424.58" y2="374.50" stroke="#4444ff" stroke-width="1.25"/>
<line x1="430.41" y1="369.8" x2="430.41" y2="374.50" stroke="#4444ff" stroke-width="1.25"/>
<line x1="435.17" y1="369.8" x2="435.17" y2="374.50" stroke="#4444ff" stroke-width="1.25"/>
<line x1="439.19" y1="369.8" x2="439.19" y2="374.50" stroke="#4444ff" stroke-width="1.25"/>
<line x1="442.68" y1="369.8" x2="442.68" y2="374.50" stroke="#4444ff" stroke-width="1.25"/>
<line x1="445.30" y1="369.8" x2="445.30" y2="374.50" stroke="#4444ff" stroke-width="1.25"/>
<text transform="translate(268.40,385.20) scale(1.2,0.82)" class="xl10">10</text>
<text x="268.10" y="383.20" class="xls">1</text>
<text transform="translate(328.50,385.20) scale(1.2,0.82)" class="xl10">10</text>
<text x="328.20" y="383.20" class="xls">2</text>
<text transform="translate(388.60,385.20) scale(1.2,0.82)" class="xl10">10</text>
<text x="388.30" y="383.20" class="xls">3</text>
<text transform="translate(446.20,385.20) scale(1.2,0.82)" class="xl10">10</text>
<text x="445.90" y="383.20" class="xls">4</text>
<text transform="translate(244.80,305.45) rotate(-90) scale(0.87,1)" class="cnt">Count</text>
<text x="268.10" y="218.30" class="rt">-ve Lc3</text>
<text x="268.60" y="228.10" class="rt rp">31.0%</text>
<text x="402.40" y="218.30" class="rt">+ve Lc3</text>
<text x="402.40" y="228.10" class="rt rp">69.0%</text>
<text x="479.3" y="202.7" class="ttl">F</text>
<rect x="472.6" y="206.6" width="210.7" height="184.1" fill="none" stroke="#72a9dc" stroke-width="1.3"/>
<line x1="519" y1="213.40" x2="522.7" y2="213.40" stroke="#8c8c8c" stroke-width="1"/>
<line x1="522.7" y1="213.40" x2="661" y2="213.40" stroke="#8c8c8c" stroke-width="1" stroke-dasharray="2.05 0.9"/>
<line x1="519" y1="242.85" x2="522.7" y2="242.85" stroke="#8c8c8c" stroke-width="1"/>
<line x1="522.7" y1="242.85" x2="661" y2="242.85" stroke="#8c8c8c" stroke-width="1" stroke-dasharray="2.05 0.9"/>
<line x1="519" y1="272.30" x2="522.7" y2="272.30" stroke="#8c8c8c" stroke-width="1"/>
<line x1="522.7" y1="272.30" x2="661" y2="272.30" stroke="#8c8c8c" stroke-width="1" stroke-dasharray="2.05 0.9"/>
<line x1="519" y1="301.75" x2="522.7" y2="301.75" stroke="#8c8c8c" stroke-width="1"/>
<line x1="522.7" y1="301.75" x2="661" y2="301.75" stroke="#8c8c8c" stroke-width="1" stroke-dasharray="2.05 0.9"/>
<line x1="522.7" y1="213.40" x2="522.7" y2="334.5" stroke="#c4c4c4" stroke-width="1.3"/>
<line x1="519" y1="331.2" x2="661.3" y2="331.2" stroke="#c4c4c4" stroke-width="1.3"/>
<line x1="568.6" y1="331.2" x2="568.6" y2="334.5" stroke="#c4c4c4" stroke-width="1.3"/>
<line x1="614.7" y1="331.2" x2="614.7" y2="334.5" stroke="#c4c4c4" stroke-width="1.3"/>
<line x1="660.7" y1="331.2" x2="660.7" y2="334.5" stroke="#c4c4c4" stroke-width="1.3"/>
<text x="512" y="217.00" class="fy" text-anchor="end">100</text>
<text x="512" y="246.45" class="fy" text-anchor="end">75</text>
<text x="512" y="275.90" class="fy" text-anchor="end">50</text>
<text x="512" y="305.35" class="fy" text-anchor="end">25</text>
<text x="512" y="334.80" class="fy" text-anchor="end">0</text>
<text transform="translate(489.1,286.4) rotate(-90) scale(0.95,1)" class="fyt" text-anchor="middle">LC3II (%)</text>
<text transform="translate(546.2,350.3) scale(0.9,1)" class="fx" text-anchor="middle">Control</text>
<text transform="translate(592,350.3) scale(0.94,1)" class="fx" text-anchor="middle">W</text>
<text transform="translate(638.2,350.3) scale(1.02,1)" class="fx" text-anchor="middle">W/S</text>
<polyline points="545.8,274.7 591.9,315.3" fill="none" stroke="#172f6e" stroke-width="2.6" stroke-dasharray="3 5.3" stroke-linecap="round"/>
<polyline points="591.9,315.3 637.9,265.8" fill="none" stroke="#172f6e" stroke-width="2.4" stroke-dasharray="0.1 4.4" stroke-linecap="round"/>
<polyline points="545.8,274.7 591.9,297.0 637.9,249.9" fill="none" stroke="#9a4a17" stroke-width="2.3" stroke-dasharray="0.1 4.5" stroke-linecap="round"/>
<line x1="545.8" y1="267.4" x2="545.8" y2="280.2" stroke="#555" stroke-width="1.1"/>
<line x1="542.6999999999999" y1="267.4" x2="548.9" y2="267.4" stroke="#222" stroke-width="1.1"/>
<line x1="542.6999999999999" y1="280.2" x2="548.9" y2="280.2" stroke="#222" stroke-width="1.1"/>
<line x1="591.9" y1="291.4" x2="591.9" y2="302.5" stroke="#555" stroke-width="1.1"/>
<line x1="588.8" y1="291.4" x2="595.0" y2="291.4" stroke="#222" stroke-width="1.1"/>
<line x1="588.8" y1="302.5" x2="595.0" y2="302.5" stroke="#222" stroke-width="1.1"/>
<line x1="591.9" y1="313.6" x2="591.9" y2="317.4" stroke="#555" stroke-width="1.1"/>
<line x1="588.8" y1="313.6" x2="595.0" y2="313.6" stroke="#222" stroke-width="1.1"/>
<line x1="588.8" y1="317.4" x2="595.0" y2="317.4" stroke="#222" stroke-width="1.1"/>
<line x1="637.9" y1="244.1" x2="637.9" y2="256.0" stroke="#555" stroke-width="1.1"/>
<line x1="634.8" y1="244.1" x2="641.0" y2="244.1" stroke="#222" stroke-width="1.1"/>
<line x1="634.8" y1="256.0" x2="641.0" y2="256.0" stroke="#222" stroke-width="1.1"/>
<line x1="637.9" y1="257.3" x2="637.9" y2="274.3" stroke="#555" stroke-width="1.1"/>
<line x1="634.8" y1="257.3" x2="641.0" y2="257.3" stroke="#222" stroke-width="1.1"/>
<line x1="634.8" y1="274.3" x2="641.0" y2="274.3" stroke="#222" stroke-width="1.1"/>
<path d="M591.9 312.5L595.0 315.6L591.9 318.70000000000005L588.8 315.6Z" fill="#4a78cc"/>
<path d="M637.9 262.40000000000003L641.1 265.6L637.9 268.8L634.6999999999999 265.6Z" fill="#4a78cc"/>
<rect x="542.8" y="271.2" width="6" height="6" fill="#ff0000"/>
<rect x="588.9" y="294.0" width="6" height="6" fill="#ff0000"/>
<rect x="634.8" y="246.8" width="6.2" height="6.2" fill="#ff0000"/>
<path d="M571.70 217.30L571.70 222.30M569.53 218.55L573.87 221.05M569.53 221.05L573.87 218.55" stroke="#172f6e" stroke-width="1.5" stroke-linecap="round" fill="none"/>
<path d="M578.70 217.30L578.70 222.30M576.53 218.55L580.87 221.05M576.53 221.05L580.87 218.55" stroke="#172f6e" stroke-width="1.5" stroke-linecap="round" fill="none"/>
<path d="M585.90 217.30L585.90 222.30M583.73 218.55L588.07 221.05M583.73 221.05L588.07 218.55" stroke="#172f6e" stroke-width="1.5" stroke-linecap="round" fill="none"/>
<text transform="translate(636.6,227.3) scale(0.93,1)" class="ns" text-anchor="middle">ns</text>
<path d="M581.50 235.00L581.50 240.00M579.33 236.25L583.67 238.75M579.33 238.75L583.67 236.25" stroke="#9a4a17" stroke-width="1.4" stroke-linecap="round" fill="none"/>
<path d="M635.30 235.00L635.30 240.00M633.13 236.25L637.47 238.75M633.13 238.75L637.47 236.25" stroke="#9a4a17" stroke-width="1.4" stroke-linecap="round" fill="none"/>
<line x1="496" y1="373.3" x2="534" y2="373.3" stroke="#172f6e" stroke-width="2.5" stroke-dasharray="3.5 5" stroke-linecap="round"/>
<path d="M515.3 370.7L517.9 373.3L515.3 375.90000000000003L512.6999999999999 373.3Z" fill="#4a78cc"/>
<text x="537.6" y="376.4" class="lg">50 nM Wort</text>
<line x1="588.5" y1="373.2" x2="625" y2="373.2" stroke="#9a4a17" stroke-width="2" stroke-dasharray="0.1 3.3" stroke-linecap="round"/>
<rect x="604.9" y="370.6" width="5.0" height="5.0" fill="#ff0000"/>
<text x="630.0" y="376.4" class="lg">100 nM Wort</text>
</svg></body></html>
